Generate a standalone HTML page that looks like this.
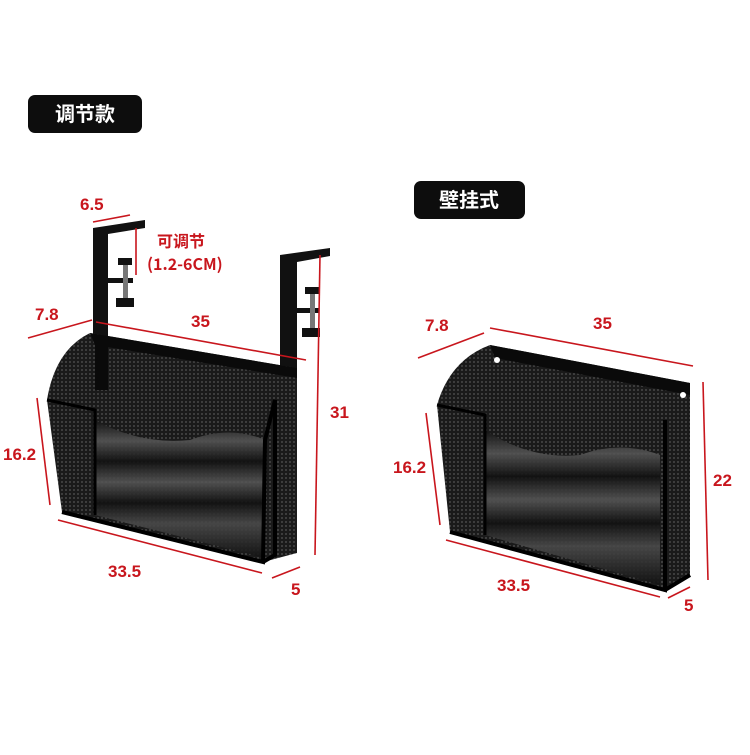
<!DOCTYPE html>
<html><head><meta charset="utf-8"><style>
html,body{margin:0;padding:0;background:#fff;}
body{width:750px;height:750px;position:relative;overflow:hidden;font-family:"Liberation Sans","Noto Sans CJK SC",sans-serif;}
</style></head><body>
<svg width="750" height="750" viewBox="0 0 750 750" xmlns="http://www.w3.org/2000/svg">
<defs>
<pattern id="mesh" width="4" height="4" patternUnits="userSpaceOnUse">
<rect width="4" height="4" fill="#1a1a1a"/>
<circle cx="2" cy="2" r="0.9" fill="#555"/>
</pattern>
<linearGradient id="wave" x1="0" y1="0" x2="0" y2="1">
<stop offset="0" stop-color="#111"/><stop offset="0.15" stop-color="#555"/><stop offset="0.3" stop-color="#111"/>
<stop offset="0.45" stop-color="#555"/><stop offset="0.6" stop-color="#111"/><stop offset="0.75" stop-color="#4a4a4a"/><stop offset="1" stop-color="#111"/>
</linearGradient>
</defs>
<!-- Labels -->
<rect x="28" y="95" width="114" height="38" rx="7" fill="#0d0d0d"/>
<text x="85" y="121" font-size="20" font-weight="bold" fill="#fff" text-anchor="middle" font-family="Noto Sans CJK SC,sans-serif">调节款</text>
<rect x="414" y="181" width="111" height="38" rx="7" fill="#0d0d0d"/>
<text x="469" y="207" font-size="20" font-weight="bold" fill="#fff" text-anchor="middle" font-family="Noto Sans CJK SC,sans-serif">壁挂式</text>

<!-- Left hooks -->
<path d="M93,228 L145,220 L145,228 L108,234 L108,340 L93,340 Z" fill="#111"/>
<path d="M280,255 L330,248 L330,256 L297,262 L297,370 L280,370 Z" fill="#111"/>
<rect x="108" y="278" width="25" height="5" fill="#111"/>
<rect x="123" y="262" width="5" height="40" fill="#777"/>
<rect x="118" y="258" width="14" height="7" fill="#111"/>
<rect x="116" y="298" width="18" height="9" fill="#111"/>
<rect x="297" y="308" width="22" height="5" fill="#111"/>
<rect x="310" y="290" width="5" height="40" fill="#777"/>
<rect x="305" y="287" width="14" height="7" fill="#111"/>
<rect x="302" y="328" width="18" height="9" fill="#111"/>

<!-- Left basket -->
<path d="M90,333 L297,368 L297,553 L263,562 L62,512 L47,400 Q55,350 90,333 Z" fill="url(#mesh)"/>
<path d="M90,333 L297,368 L297,378 L95,345 Z" fill="#0a0a0a"/>
<path d="M95,420 Q140,445 190,440 Q230,425 265,440 L265,558 L95,515 Z" fill="url(#wave)" opacity="0.9"/>
<path d="M62,512 L263,562 L265,440 L275,400 L275,555 L263,562" fill="none" stroke="#000" stroke-width="4"/>
<path d="M47,400 L95,410 L95,515" fill="none" stroke="#000" stroke-width="3"/>
<rect x="95" y="340" width="13" height="50" fill="#0a0a0a"/>

<!-- Right basket -->
<path d="M490,345 L690,383 L690,575 L665,590 L450,532 L437,405 Q450,360 490,345 Z" fill="url(#mesh)"/>
<path d="M490,345 L690,383 L690,395 L495,358 Z" fill="#0a0a0a"/>
<path d="M485,430 Q530,460 580,455 Q620,440 660,455 L660,585 L485,535 Z" fill="url(#wave)" opacity="0.9"/>
<path d="M450,532 L665,590 L665,420 M665,590 L690,575" fill="none" stroke="#000" stroke-width="4"/>
<path d="M437,405 L485,415 L485,535" fill="none" stroke="#000" stroke-width="3"/>
<circle cx="497" cy="360" r="3" fill="#fff"/>
<circle cx="683" cy="395" r="3" fill="#fff"/>

<!-- Red dimension lines -->
<g stroke="#c8161d" stroke-width="1.6" fill="none">
<line x1="93" y1="222" x2="130" y2="215"/>
<line x1="136" y1="228" x2="136" y2="275"/>
<line x1="28" y1="338" x2="92" y2="320"/>
<line x1="96" y1="322" x2="306" y2="360"/>
<line x1="320" y1="255" x2="315" y2="555"/>
<line x1="37" y1="398" x2="50" y2="505"/>
<line x1="58" y1="520" x2="262" y2="573"/>
<line x1="272" y1="578" x2="300" y2="567"/>
<line x1="418" y1="358" x2="484" y2="333"/>
<line x1="490" y1="328" x2="693" y2="366"/>
<line x1="426" y1="413" x2="440" y2="525"/>
<line x1="703" y1="382" x2="708" y2="580"/>
<line x1="446" y1="540" x2="660" y2="597"/>
<line x1="668" y1="598" x2="690" y2="587"/>
</g>
<g fill="#c8161d" font-size="17" font-weight="bold" font-family="Liberation Sans,sans-serif">
<text x="80" y="210">6.5</text>
<text x="157" y="247" font-family="Noto Sans CJK SC,sans-serif" font-size="16">可调节</text>
<text x="147" y="270" font-family="Noto Sans CJK SC,sans-serif" font-size="16">(1.2-6CM)</text>
<text x="35" y="320">7.8</text>
<text x="191" y="327">35</text>
<text x="330" y="418">31</text>
<text x="3" y="460">16.2</text>
<text x="108" y="577">33.5</text>
<text x="291" y="595">5</text>
<text x="425" y="331">7.8</text>
<text x="593" y="329">35</text>
<text x="393" y="473">16.2</text>
<text x="713" y="486">22</text>
<text x="497" y="591">33.5</text>
<text x="684" y="611">5</text>
</g>
</svg>
</body></html>
